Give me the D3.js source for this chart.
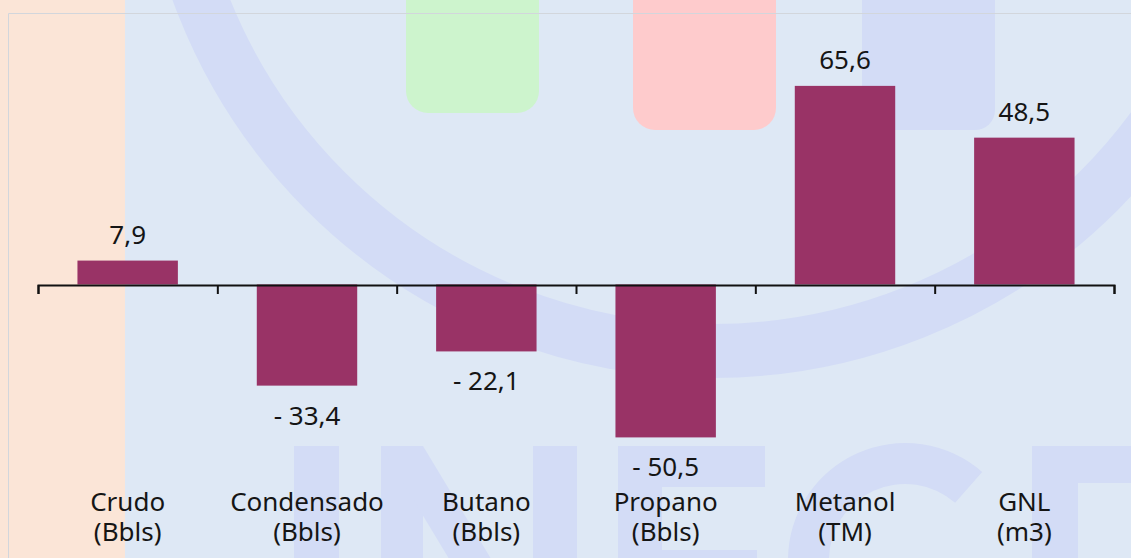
<!DOCTYPE html>
<meta charset="utf-8" />
<head>
  <style>
    body { margin: 0; padding: 0; background: #dee8f5; }
    svg { display: block; }
    text { font-family: "Noto Sans", "Open Sans", sans-serif; fill: #151515; }
    .bar { fill: #993366; }
    .mark { fill: #d3dcf6; }
  </style>
  <script src="https://cdn.jsdelivr.net/npm/d3@7"></script>
</head>
<body>
<script>
  // chart values
  var categories = ["Crudo", "Condensado", "Butano", "Propano", "Metanol", "GNL"];
  var units = ["(Bbls)", "(Bbls)", "(Bbls)", "(Bbls)", "(TM)", "(m3)"];
  var values = [7.9, -33.4, -22.1, -50.5, 65.6, 48.5];
  var valueLabels = ["7,9", "- 33,4", "- 22,1", "- 50,5", "65,6", "48,5"];

  var W = 1131, H = 558;
  var left = 38, right = 1114;

  var svg = d3.select("body")
    .append("svg")
    .attr("width", W)
    .attr("height", H);

  // ---- background watermark ----
  var bg = svg.append("g");
  bg.append("rect").attr("width", W).attr("height", H).attr("fill", "#dee8f5");
  bg.append("rect").attr("width", 125).attr("height", H).attr("fill", "#fbe5d7");

  // big ring
  bg.append("circle")
    .attr("cx", 712).attr("cy", -196).attr("r", 547)
    .attr("fill", "none").attr("stroke", "#d3dcf6").attr("stroke-width", 54);

  // coloured tabs at top
  bg.append("rect").attr("x", 406).attr("y", -30).attr("width", 133).attr("height", 143)
    .attr("rx", 22).attr("fill", "#cdf4cd");
  bg.append("rect").attr("x", 633).attr("y", -30).attr("width", 143).attr("height", 160)
    .attr("rx", 22).attr("fill", "#fecbcc");
  bg.append("rect").attr("x", 862).attr("y", -30).attr("width", 133).attr("height", 160)
    .attr("rx", 20).attr("class", "mark");

  // letters at the bottom
  var lt = bg.append("g");
  lt.append("rect").attr("class", "mark").attr("x", 294).attr("y", 446).attr("width", 45).attr("height", 150);
  lt.append("rect").attr("class", "mark").attr("x", 381).attr("y", 446).attr("width", 42).attr("height", 150);
  lt.append("rect").attr("class", "mark").attr("x", 533).attr("y", 446).attr("width", 44).attr("height", 150);
  lt.append("path").attr("class", "mark").attr("d", "M381,446L423,446L540,640L498,640Z");
  lt.append("rect").attr("class", "mark").attr("x", 618).attr("y", 446).attr("width", 147).attr("height", 41);
  lt.append("rect").attr("class", "mark").attr("x", 618).attr("y", 446).attr("width", 44).attr("height", 150);
  lt.append("rect").attr("class", "mark").attr("x", 618).attr("y", 550).attr("width", 139).attr("height", 41);
  lt.append("path").attr("class", "mark")
    .attr("transform", "translate(905,560)")
    .attr("d", d3.arc()({ innerRadius: 76, outerRadius: 117, startAngle: -Math.PI / 2, endAngle: 0.72 }));
  lt.append("rect").attr("class", "mark").attr("x", 1032).attr("y", 446).attr("width", 120).attr("height", 37);
  lt.append("rect").attr("class", "mark").attr("x", 1032).attr("y", 446).attr("width", 46).attr("height", 150);

  // chart area border
  svg.append("path")
    .attr("d", "M8.5," + H + "V13.5H" + W)
    .attr("fill", "none")
    .attr("stroke", "#d2d6dc")
    .attr("stroke-width", 1);

  // ---- scales ----
  var x = d3.scaleBand()
    .domain(categories)
    .range([left, right])
    .paddingInner(0.44)
    .paddingOuter(0.22);

  var xEdge = d3.scaleLinear()
    .domain([0, categories.length])
    .range([left, right]);

  var y = d3.scaleLinear()
    .domain([-90, 90])
    .range([557, 12]);

  // bars
  svg.append("g")
    .selectAll("rect")
    .data(values)
    .enter()
    .append("rect")
    .attr("class", "bar")
    .attr("x", function(d, i) { return x(categories[i]); })
    .attr("width", x.bandwidth())
    .attr("y", function(d) { return y(Math.max(0, d)); })
    .attr("height", function(d) { return Math.abs(y(d) - y(0)); });

  // axis at zero with ticks between categories
  var axis = svg.append("g")
    .attr("transform", "translate(0," + (y(0) + 0.5) + ")")
    .call(d3.axisBottom(xEdge)
      .tickValues(d3.range(0, categories.length + 1))
      .tickSize(9)
      .tickSizeOuter(9)
      .tickFormat(""));
  axis.selectAll("path, line").attr("stroke", "#111").attr("stroke-width", 2);

  // value labels
  svg.append("g")
    .selectAll("text")
    .data(values)
    .enter()
    .append("text")
    .attr("text-anchor", "middle")
    .attr("font-size", 26)
    .attr("x", function(d, i) { return x(categories[i]) + x.bandwidth() / 2; })
    .attr("y", function(d) { return d >= 0 ? y(d) - 17 : y(d) + 39; })
    .text(function(d, i) { return valueLabels[i]; });

  // category labels, two lines each
  var cat = svg.append("g")
    .selectAll("g")
    .data(categories)
    .enter()
    .append("g");

  cat.append("text")
    .attr("text-anchor", "middle")
    .attr("font-size", 26)
    .attr("x", function(d) { return x(d) + x.bandwidth() / 2; })
    .attr("y", 511)
    .text(function(d) { return d; });
  cat.append("text")
    .attr("text-anchor", "middle")
    .attr("font-size", 26)
    .attr("x", function(d) { return x(d) + x.bandwidth() / 2; })
    .attr("y", 541)
    .text(function(d, i) { return units[i]; });
</script>
</body>
